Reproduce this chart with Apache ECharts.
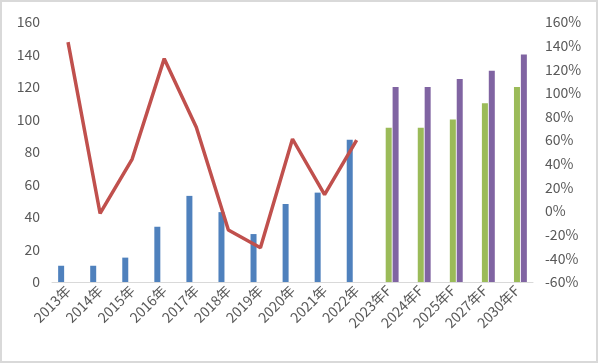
<!DOCTYPE html>
<html><head><meta charset="utf-8">
<script src="https://cdn.jsdelivr.net/npm/echarts@6/dist/echarts.min.js"></script>
<style>html,body{margin:0;padding:0;background:#fff;}#c{width:598px;height:363px;box-sizing:border-box;border:2px solid #d9d9d9;}</style>
</head><body><div id="c"></div>
<script>
var categories = ['2013年','2014年','2015年','2016年','2017年','2018年','2019年','2020年','2021年','2022年','2023年F','2024年F','2025年F','2027年F','2030年F'];
var actualValues = [10,10,15,34,53,43,29.5,48,55,87.5,null,null,null,null,null];
var forecastLow = [null,null,null,null,null,null,null,null,null,null,95,95,100,110,120];
var forecastHigh = [null,null,null,null,null,null,null,null,null,null,120,120,125,130,140];
var growthRate = [143,-2,44,129,71,-16,-31,61,14,60,null,null,null,null,null];
var leftTicks = {min:0,max:160,interval:20};
var rightTicks = {min:-60,max:160,interval:20};

var chart = echarts.init(document.getElementById('c'));
var txt = {color:'#595959',fontSize:14,fontFamily:'Noto Sans CJK SC'};
chart.setOption({
  animation:false,
  grid:{left:50,right:63,top:20,bottom:79,containLabel:false},
  xAxis:{type:'category',data:categories,
    axisLine:{lineStyle:{color:'#d9d9d9',width:1}},
    axisTick:{show:false},
    axisLabel:{rotate:45,interval:0,margin:6,fontSize:14,color:'#595959',fontFamily:'Noto Sans CJK SC'}},
  yAxis:[
    {type:'value',min:leftTicks.min,max:leftTicks.max,interval:leftTicks.interval,
      splitLine:{show:false},axisLine:{show:false},axisTick:{show:false},
      axisLabel:Object.assign({margin:12},txt)},
    {type:'value',min:rightTicks.min,max:rightTicks.max,interval:rightTicks.interval,
      splitLine:{show:false},axisLine:{show:false},axisTick:{show:false},
      axisLabel:Object.assign({margin:12,formatter:'{value}%'},txt)}
  ],
  series:[
    {type:'bar',data:actualValues,barWidth:6,barGap:'15%',itemStyle:{color:'#4f81bd'}},
    {type:'bar',data:forecastLow,barWidth:6,barGap:'15%',itemStyle:{color:'#9bbb59'}},
    {type:'bar',data:forecastHigh,barWidth:6,barGap:'15%',itemStyle:{color:'#8064a2'}},
    {type:'line',yAxisIndex:1,data:growthRate,symbol:'none',lineStyle:{color:'#c0504d',width:3.5},itemStyle:{color:'#c0504d'}}
  ]
});
</script></body></html>
